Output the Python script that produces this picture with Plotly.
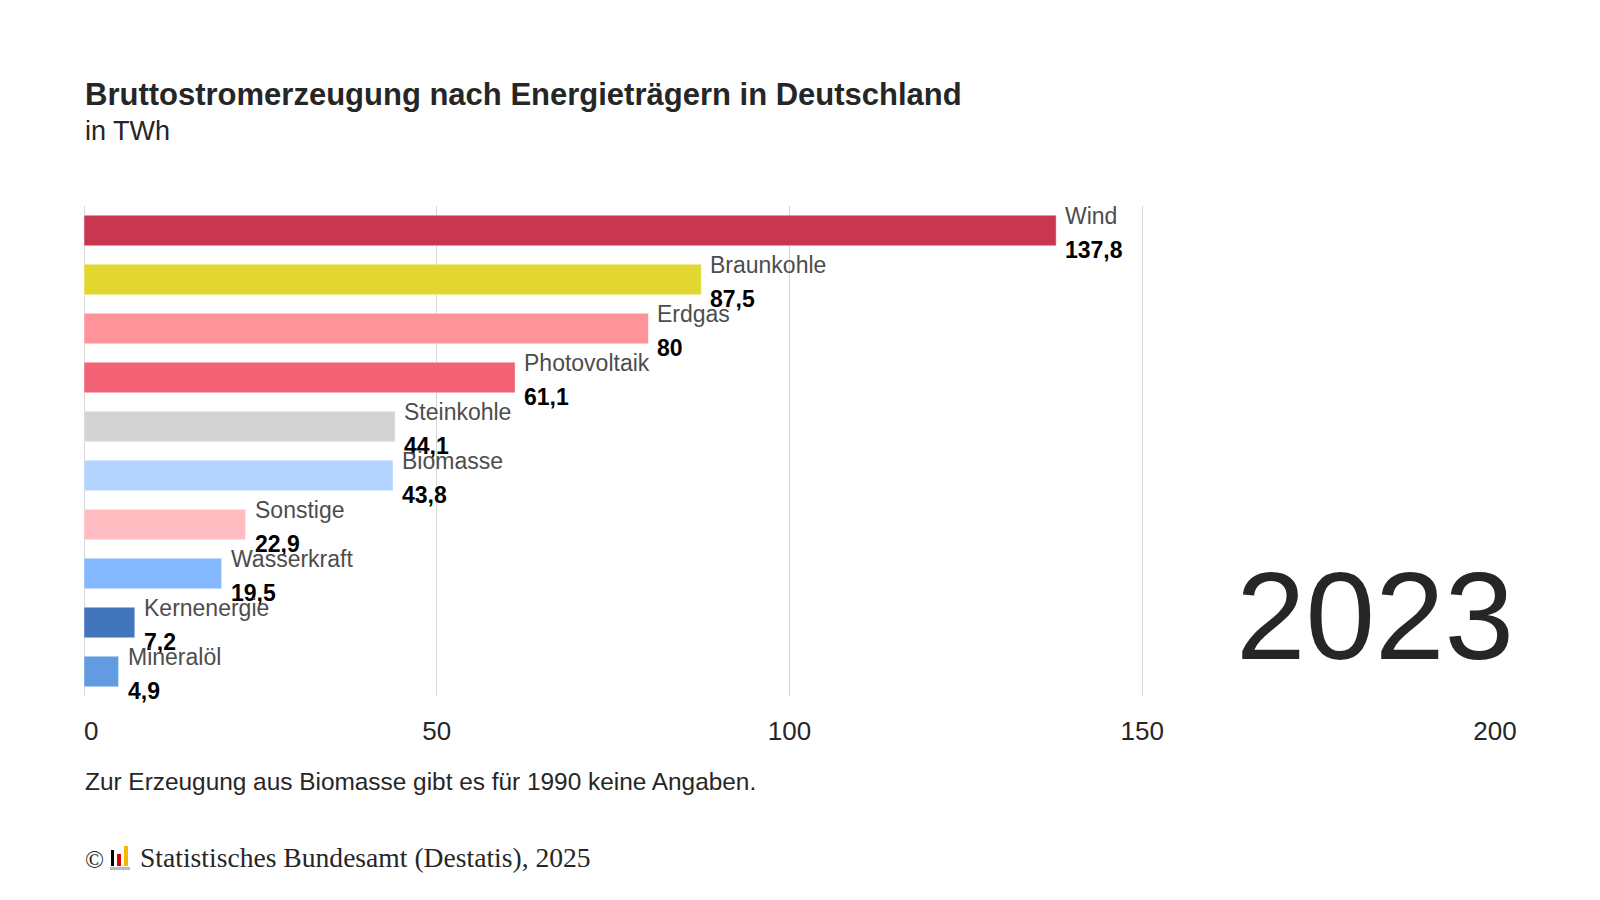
import plotly.graph_objects as go

# Bruttostromerzeugung 2023, TWh
traeger = ['Wind', 'Braunkohle', 'Erdgas', 'Photovoltaik', 'Steinkohle',
           'Biomasse', 'Sonstige', 'Wasserkraft', 'Kernenergie', 'Mineralöl']
twh = [137.8, 87.5, 80, 61.1, 44.1, 43.8, 22.9, 19.5, 7.2, 4.9]
farben = ['#c8374f', '#e2d630', '#ff939a', '#f26174', '#d3d3d3',
          '#b3d4ff', '#ffbcc1', '#84b9ff', '#4275bb', '#619be0']
x_ticks = [0, 50, 100, 150, 200]
x_ticktext = ['\u20070', '50', '100', '150', '200']
jahr = '2023'

W, H = 1600, 900
L, R, T, B = 76, 113, 198, 212
plot_w = W - L - R
plot_h = H - T - B


def py(pix):
    # pixel row -> paper y
    return (H - B - pix) / plot_h


def px(pix):
    return (pix - L) / plot_w


FONT = 'Liberation Sans, Arial, Helvetica, sans-serif'
SERIF = 'Liberation Serif, Times New Roman, serif'

fig = go.Figure(go.Bar(
    x=twh,
    y=traeger,
    orientation='h',
    marker=dict(color=farben, line=dict(color='rgba(255,255,255,0.45)', width=1)),
    hoverinfo='x+y',
))

annotations = []
for name, v in zip(traeger, twh):
    label = f'{v:g}'.replace('.', ',')
    annotations.append(dict(x=v, y=name, xref='x', yref='y', text=name,
                            showarrow=False, xanchor='left', yanchor='middle',
                            xshift=7, yshift=15,
                            font=dict(family=FONT, size=23, color='#4d4d4d')))
    annotations.append(dict(x=v, y=name, xref='x', yref='y', text=f'<b>{label}</b>',
                            showarrow=False, xanchor='left', yanchor='middle',
                            xshift=7, yshift=-19,
                            font=dict(family=FONT, size=23, color='#000000')))

annotations += [
    dict(x=px(75), y=py(87), xref='paper', yref='paper', xanchor='left', yanchor='middle',
         text='<b>Bruttostromerzeugung nach Energieträgern in Deutschland</b>',
         showarrow=False, font=dict(family=FONT, size=31, color='#262626')),
    dict(x=px(75), y=py(123), xref='paper', yref='paper', xanchor='left', yanchor='middle',
         text='in TWh', showarrow=False, font=dict(family=FONT, size=27, color='#262626')),
    dict(x=px(1508), y=py(607), xref='paper', yref='paper', xanchor='right', yanchor='middle',
         text=jahr, showarrow=False, font=dict(family=FONT, size=125, color='#262626')),
    dict(x=px(75), y=py(773), xref='paper', yref='paper', xanchor='left', yanchor='middle',
         text='Zur Erzeugung aus Biomasse gibt es für 1990 keine Angaben.',
         showarrow=False, font=dict(family=FONT, size=24.4, color='#262626')),
    dict(x=px(75), y=py(851), xref='paper', yref='paper', xanchor='left', yanchor='middle',
         text='©', showarrow=False, font=dict(family=SERIF, size=25, color='#262626')),
    dict(x=px(130), y=py(849), xref='paper', yref='paper', xanchor='left', yanchor='middle',
         text='Statistisches Bundesamt (Destatis), 2025', showarrow=False,
         font=dict(family=SERIF, size=27.6, color='#262626')),
]

# small Destatis logo
shapes = [
    dict(type='rect', xref='paper', yref='paper', x0=px(103), x1=px(106), y0=py(858), y1=py(842),
         fillcolor='#000000', line_width=0),
    dict(type='rect', xref='paper', yref='paper', x0=px(109), x1=px(113), y0=py(858), y1=py(846),
         fillcolor='#dd0000', line_width=0),
    dict(type='rect', xref='paper', yref='paper', x0=px(116), x1=px(120), y0=py(858), y1=py(838),
         fillcolor='#f5b800', line_width=0),
    dict(type='rect', xref='paper', yref='paper', x0=px(102), x1=px(122), y0=py(862), y1=py(859),
         fillcolor='#bbbbbb', line_width=0),
]

fig.update_layout(
    width=W, height=H,
    margin=dict(l=L, r=R, t=T, b=B),
    plot_bgcolor='white', paper_bgcolor='white',
    font=dict(family=FONT, color='#262626'),
    separators=',.',
    bargap=0.375,
    showlegend=False,
    annotations=annotations,
    shapes=shapes,
    xaxis=dict(range=[0, 200], tickvals=x_ticks, ticktext=x_ticktext,
               showgrid=True, gridcolor='#d6d6d6',
               gridwidth=1, zeroline=True, zerolinecolor='#d6d6d6', zerolinewidth=1,
               showline=False, ticks='outside', ticklen=12, tickcolor='white',
               tickfont=dict(family=FONT, size=26, color='#262626'), fixedrange=True),
    yaxis=dict(categoryorder='array', categoryarray=traeger,
               range=[len(traeger) - 0.5, -0.5], autorange=False,
               showticklabels=False, showgrid=False, zeroline=False, fixedrange=True),
)

fig.write_html('out.html')
